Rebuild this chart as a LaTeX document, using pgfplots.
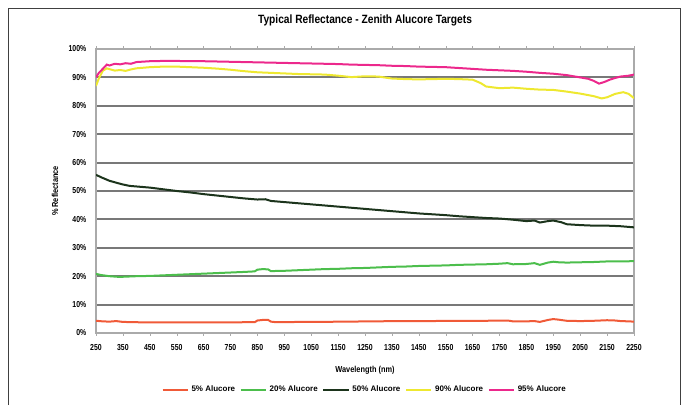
\documentclass[border=0pt]{standalone}
\usepackage{fontspec}
\setmainfont{Liberation Sans}
\usepackage{pgfplots}
\pgfplotsset{compat=1.18}

\definecolor{cRed}{RGB}{240,90,56}
\definecolor{cGreen}{RGB}{76,190,76}
\definecolor{cBlack}{RGB}{28,52,28}
\definecolor{cYellow}{RGB}{238,232,48}
\definecolor{cPink}{RGB}{236,40,140}
\definecolor{cGrid}{RGB}{120,120,120}
\definecolor{cAxis}{RGB}{170,170,170}

\begin{document}
\begin{tikzpicture}
\useasboundingbox (0,0) rectangle (515.25pt,303.75pt);
\draw[black!75, line width=0.6pt] (6pt,0pt) -- (6pt,297.75pt) -- (510pt,297.75pt) -- (510pt,0pt);
\begin{axis}[
  at={(72pt,54pt)}, anchor=south west,
  scale only axis, width=403.5pt, height=213pt,
  xmin=250, xmax=2250, ymin=0, ymax=100,
  xtick={250,350,...,2250},
  ytick={0,10,...,100},
  yticklabel={\pgfmathprintnumber{\tick}\%},
  /pgf/number format/assume math mode=true,
  /pgf/number format/1000 sep={},
  ymajorgrids,
  major grid style={cGrid, line width=1.4pt},
  axis line style={cAxis, line width=1.2pt},
  tick align=outside, major tick length=2pt,
  xtick style={cAxis}, ytick style={draw=none},
  tick label style={font=\bfseries\fontsize{6.5}{7}\selectfont, xscale=0.8},
  xticklabel style={yshift=-3pt},
  yticklabel style={xshift=-3pt},
  title={Typical Reflectance - Zenith Alucore Targets},
  every axis title shift=0pt,
  title style={at={(0.5,1)}, anchor=center, yshift=21.75pt, font=\bfseries\fontsize{9}{10}\selectfont, xscale=0.85},
  xlabel={Wavelength (nm)},
  xlabel style={at={(axis description cs:0.5,-0.1303)}, anchor=center, font=\bfseries\fontsize{6.5}{7}\selectfont, xscale=0.85},
  ylabel={\% Reflectance},
  ylabel style={at={(axis description cs:-0.0762,0.5)}, anchor=center, font=\bfseries\fontsize{6.5}{7}\selectfont, xscale=0.85},
  legend columns=-1,
  legend style={at={(axis description cs:0.5,-0.2007)}, anchor=center, draw=none, fill=none,
    font=\bfseries\fontsize{6}{7}\selectfont,
    /tikz/every even column/.append style={column sep=1.5pt}},
  legend image code/.code={\draw[#1] (0pt,0pt) -- (19pt,0pt);},
  every axis plot/.append style={line width=1.5pt, no markers},
]
\addplot[cRed] coordinates {
(250,4.3) (275,4.1) (300,4.0) (325,4.2) (350,3.9) (400,3.8) (450,3.7) (500,3.7)
(550,3.7) (600,3.7) (650,3.7) (700,3.7) (750,3.7) (800,3.8) (840,3.8) (850,4.4)
(870,4.6) (890,4.6) (900,4.0) (920,3.8) (950,3.8) (1000,3.9) (1050,3.9) (1100,3.9)
(1150,4.0) (1200,4.0) (1250,4.1) (1300,4.1) (1350,4.2) (1400,4.2) (1450,4.2) (1500,4.2)
(1550,4.3) (1600,4.3) (1650,4.3) (1700,4.3) (1750,4.4) (1780,4.4) (1800,4.1) (1850,4.1)
(1880,4.2) (1900,3.9) (1930,4.6) (1950,4.9) (1970,4.7) (2000,4.3) (2050,4.2) (2100,4.3)
(2150,4.5) (2180,4.4) (2200,4.2) (2230,4.1) (2250,4.0)};
\addlegendentry{5\% Alucore}
\addplot[cGreen] coordinates {
(250,20.8) (270,20.4) (300,20.0) (330,19.8) (350,19.8) (400,20.0) (450,20.1) (500,20.3)
(550,20.5) (600,20.7) (650,20.9) (700,21.1) (750,21.3) (800,21.5) (840,21.7) (850,22.3)
(870,22.5) (890,22.4) (900,21.8) (950,21.9) (1000,22.1) (1050,22.3) (1100,22.5) (1150,22.6)
(1200,22.8) (1250,22.9) (1300,23.1) (1350,23.3) (1400,23.4) (1450,23.6) (1500,23.7) (1550,23.8)
(1600,24.0) (1650,24.1) (1700,24.2) (1750,24.4) (1780,24.6) (1800,24.2) (1850,24.3) (1880,24.6)
(1900,24.0) (1930,24.8) (1950,25.1) (1970,24.9) (2000,24.8) (2050,24.9) (2100,25.0) (2150,25.2)
(2200,25.2) (2250,25.3)};
\addlegendentry{20\% Alucore}
\addplot[cBlack] coordinates {
(250,55.7) (270,54.8) (300,53.6) (330,52.8) (350,52.3) (375,51.8) (400,51.6) (450,51.2)
(500,50.6) (550,50.0) (600,49.5) (650,48.9) (700,48.4) (750,47.9) (800,47.4) (850,47.0)
(880,47.1) (900,46.5) (950,46.1) (1000,45.7) (1050,45.3) (1100,44.9) (1150,44.5) (1200,44.1)
(1250,43.7) (1300,43.3) (1350,42.9) (1400,42.5) (1450,42.1) (1500,41.8) (1550,41.5) (1600,41.1)
(1650,40.8) (1700,40.5) (1750,40.3) (1800,39.9) (1850,39.4) (1880,39.6) (1900,38.9) (1930,39.4)
(1950,39.6) (1980,39.0) (2000,38.3) (2050,38.0) (2100,37.8) (2150,37.8) (2200,37.6) (2250,37.2)};
\addlegendentry{50\% Alucore}
\addplot[cYellow] coordinates {
(250,87.0) (260,89.5) (275,92.3) (290,93.2) (300,92.9) (320,92.4) (340,92.6) (360,92.3)
(380,92.8) (400,93.2) (450,93.6) (500,93.8) (550,93.8) (600,93.6) (650,93.4) (700,93.1)
(750,92.7) (800,92.2) (850,91.8) (900,91.6) (950,91.4) (1000,91.2) (1050,91.1) (1100,91.0)
(1150,90.6) (1200,90.1) (1250,90.4) (1300,90.3) (1350,89.6) (1400,89.4) (1450,89.3) (1500,89.4)
(1550,89.5) (1600,89.4) (1650,89.2) (1680,88.0) (1700,86.8) (1750,86.2) (1800,86.4) (1850,86.0)
(1900,85.7) (1950,85.6) (2000,85.0) (2050,84.3) (2100,83.4) (2130,82.6) (2150,83.0) (2180,84.2)
(2210,84.8) (2230,84.2) (2250,82.7)};
\addlegendentry{90\% Alucore}
\addplot[cPink] coordinates {
(250,90.0) (260,91.5) (275,93.0) (290,94.5) (300,94.2) (320,94.8) (340,94.6) (360,95.0)
(380,94.8) (400,95.4) (450,95.7) (500,95.8) (550,95.8) (600,95.7) (650,95.7) (700,95.6)
(750,95.5) (800,95.4) (850,95.3) (900,95.2) (950,95.1) (1000,95.0) (1050,94.9) (1100,94.8)
(1150,94.7) (1200,94.5) (1250,94.4) (1300,94.3) (1350,94.1) (1400,94.0) (1450,93.8) (1500,93.7)
(1550,93.6) (1600,93.3) (1650,93.0) (1700,92.7) (1750,92.5) (1800,92.3) (1850,92.0) (1900,91.6)
(1950,91.3) (2000,90.8) (2050,90.0) (2080,89.5) (2100,88.8) (2120,87.8) (2140,88.4) (2160,89.2)
(2180,89.8) (2200,90.3) (2230,90.6) (2250,91.0)};
\addlegendentry{95\% Alucore}
\end{axis}
\end{tikzpicture}
\end{document}
